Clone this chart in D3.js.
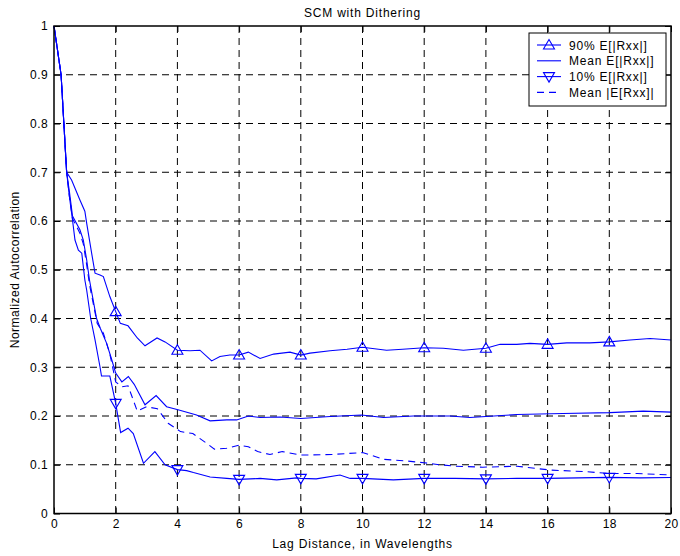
<!DOCTYPE html>
<html>
<head>
<meta charset="utf-8">
<script src="https://cdn.jsdelivr.net/npm/d3@7/dist/d3.min.js"></script>
<style>
  body { margin: 0; background: #fff; }
  svg { display: block; font-family: "Liberation Sans", Arial, sans-serif; }
</style>
</head>
<body>
<svg id="chart" width="680" height="556"></svg>
<script>
// ---- data ----
const titleText = "SCM with Dithering";
const xLabel = "Lag Distance, in Wavelengths";
const yLabel = "Normalized Autocorrelation";
const xTicks = [0, 2, 4, 6, 8, 10, 12, 14, 16, 18, 20];
const yTicks = [0, 0.1, 0.2, 0.3, 0.4, 0.5, 0.6, 0.7, 0.8, 0.9, 1];
const markerX = [2, 4, 6, 8, 10, 12, 14, 16, 18];
const seriesNames = ["90% E[|Rxx|]", "Mean E[|Rxx|]", "10% E[|Rxx|]", "Mean |E[Rxx]|"];

const p90X = [0, 0.23, 0.32, 0.41, 0.57, 0.84, 1.0, 1.06, 1.22, 1.33, 1.49, 1.6, 1.81, 2.0, 2.15, 2.4, 2.7, 2.95, 3.34, 3.6, 4.0, 4.41, 4.73, 5.11, 5.38, 5.7, 6.0, 6.3, 6.68, 7.12, 7.65, 8.0, 8.3, 8.95, 9.5, 10.0, 10.78, 11.3, 12.0, 12.62, 13.27, 14.0, 14.46, 15.0, 15.43, 16.0, 16.62, 17.37, 18.0, 18.67, 19.32, 20];
const p90Y = [1, 0.9, 0.8, 0.7, 0.684, 0.643, 0.62, 0.595, 0.534, 0.493, 0.489, 0.486, 0.445, 0.414, 0.39, 0.385, 0.36, 0.344, 0.36, 0.352, 0.335, 0.334, 0.335, 0.313, 0.322, 0.325, 0.325, 0.331, 0.318, 0.327, 0.331, 0.325, 0.329, 0.334, 0.337, 0.341, 0.335, 0.337, 0.34, 0.339, 0.335, 0.339, 0.347, 0.347, 0.349, 0.347, 0.35, 0.35, 0.352, 0.356, 0.359, 0.356];

const meanX = [0, 0.23, 0.32, 0.41, 0.5, 0.6, 0.84, 0.95, 1.06, 1.15, 1.38, 1.5, 1.7, 1.85, 2.0, 2.2, 2.41, 2.6, 2.95, 3.31, 3.65, 4.02, 4.62, 5.06, 5.6, 5.92, 6.3, 6.68, 7.33, 8.0, 8.95, 9.97, 10.68, 11.65, 12.84, 13.48, 15.0, 16.5, 18.02, 19.1, 20];
const meanY = [1, 0.9, 0.8, 0.7, 0.66, 0.61, 0.582, 0.561, 0.52, 0.479, 0.4, 0.38, 0.35, 0.32, 0.288, 0.27, 0.281, 0.265, 0.223, 0.242, 0.219, 0.213, 0.202, 0.19, 0.192, 0.192, 0.2, 0.197, 0.198, 0.195, 0.199, 0.202, 0.197, 0.2, 0.2, 0.197, 0.203, 0.205, 0.207, 0.21, 0.208];

const p10X = [0, 0.23, 0.32, 0.41, 0.5, 0.6, 0.68, 0.79, 0.9, 1.0, 1.06, 1.19, 1.33, 1.49, 1.54, 1.81, 2.0, 2.16, 2.4, 2.57, 2.9, 3.27, 3.6, 4.0, 4.3, 4.52, 5.06, 5.6, 6.0, 6.68, 7.22, 7.87, 8.0, 8.5, 9.27, 9.6, 10.0, 11.0, 12.0, 13.0, 14.0, 15.0, 16.0, 17.0, 18.0, 19.0, 20];
const p10Y = [1, 0.9, 0.8, 0.7, 0.65, 0.602, 0.561, 0.54, 0.534, 0.479, 0.458, 0.4, 0.356, 0.301, 0.282, 0.282, 0.226, 0.166, 0.175, 0.164, 0.103, 0.127, 0.1, 0.09, 0.088, 0.084, 0.075, 0.072, 0.07, 0.072, 0.069, 0.073, 0.072, 0.071, 0.079, 0.072, 0.072, 0.069, 0.072, 0.072, 0.071, 0.072, 0.072, 0.073, 0.074, 0.073, 0.074];

const meanAbsX = [0, 0.23, 0.32, 0.41, 0.5, 0.6, 0.84, 0.95, 1.06, 1.15, 1.4, 1.6, 1.8, 2.0, 2.2, 2.4, 2.7, 3.0, 3.35, 3.7, 4.1, 4.5, 4.95, 5.2, 5.6, 6.0, 6.3, 6.6, 7.0, 7.4, 8.0, 8.3, 9.0, 10.0, 10.7, 11.4, 12.0, 12.5, 13.0, 13.9, 15.0, 16.1, 17.2, 18.0, 18.9, 20];
const meanAbsY = [1, 0.9, 0.8, 0.7, 0.65, 0.605, 0.575, 0.553, 0.51, 0.47, 0.39, 0.37, 0.33, 0.27, 0.26, 0.262, 0.21, 0.219, 0.215, 0.185, 0.168, 0.164, 0.144, 0.132, 0.134, 0.14, 0.137, 0.127, 0.121, 0.127, 0.12, 0.12, 0.121, 0.125, 0.111, 0.108, 0.104, 0.1, 0.097, 0.095, 0.097, 0.089, 0.086, 0.082, 0.082, 0.079];

// ---- layout ----
const svg = d3.select("#chart");
const L = 54, R = 671, T = 26, B = 513.5;
const x = d3.scaleLinear().domain([0, 20]).range([L, R]);
const y = d3.scaleLinear().domain([0, 1]).range([B, T]);
const blue = "#0000ff";
const font = 12;
const ls = "0.8px";

// grid
const grid = svg.append("g");
xTicks.slice(1, -1).forEach(t => {
  grid.append("line").attr("x1", x(t)).attr("x2", x(t)).attr("y1", T).attr("y2", B)
    .attr("stroke", "#000").attr("stroke-width", 1).attr("stroke-dasharray", "7,5");
});
yTicks.slice(1, -1).forEach(t => {
  grid.append("line").attr("x1", L).attr("x2", R).attr("y1", y(t)).attr("y2", y(t))
    .attr("stroke", "#000").attr("stroke-width", 1).attr("stroke-dasharray", "7,5");
});

// axes (MATLAB-like inward ticks on all sides)
const tl = 6;
const axB = svg.append("g").attr("transform", `translate(0,${B})`)
  .call(d3.axisBottom(x).tickValues(xTicks).tickSizeInner(-tl).tickSizeOuter(0).tickPadding(6).tickFormat(d3.format("d")));
const axT = svg.append("g").attr("transform", `translate(0,${T})`)
  .call(d3.axisTop(x).tickValues(xTicks).tickSizeInner(-tl).tickSizeOuter(0).tickFormat(""));
const axL = svg.append("g").attr("transform", `translate(${L},0)`)
  .call(d3.axisLeft(y).tickValues(yTicks).tickSizeInner(-tl).tickSizeOuter(0).tickPadding(6).tickFormat(d => d === 0 ? "0" : d === 1 ? "1" : d3.format(".1f")(d)));
const axR = svg.append("g").attr("transform", `translate(${R},0)`)
  .call(d3.axisRight(y).tickValues(yTicks).tickSizeInner(-tl).tickSizeOuter(0).tickFormat(""));
[axB, axT, axL, axR].forEach(a => {
  a.select(".domain").remove();
  a.selectAll("line").attr("stroke", "#000");
  a.selectAll("text").attr("font-size", font).attr("fill", "#000")
    .attr("font-family", "Liberation Sans, Arial, sans-serif").attr("letter-spacing", "0.4px");
});

// lines
const line = d3.line().x(d => x(d[0])).y(d => y(d[1]));
const zip = (a, b) => a.map((v, i) => [v, b[i]]);
const series = [
  { name: seriesNames[0], data: zip(p90X, p90Y), dash: null, marker: "up" },
  { name: seriesNames[1], data: zip(meanX, meanY), dash: null, marker: null },
  { name: seriesNames[2], data: zip(p10X, p10Y), dash: null, marker: "down" },
  { name: seriesNames[3], data: zip(meanAbsX, meanAbsY), dash: "7,5", marker: null }
];
const triUp = "M0,-5.5L5.5,4L-5.5,4Z";
const triDown = "M0,5.5L5.5,-4L-5.5,-4Z";

const plot = svg.append("g");
series.forEach(s => {
  plot.append("path").datum(s.data).attr("d", line)
    .attr("fill", "none").attr("stroke", blue).attr("stroke-width", 1.1)
    .attr("stroke-dasharray", s.dash);
  if (s.marker) {
    const pts = s.data.filter(d => markerX.includes(d[0]));
    plot.selectAll(null).data(pts).enter().append("path")
      .attr("transform", d => `translate(${x(d[0])},${y(d[1])})`)
      .attr("d", s.marker === "up" ? triUp : triDown)
      .attr("fill", "none").attr("stroke", blue).attr("stroke-width", 1.1);
  }
});

// frame
svg.append("rect").attr("x", L).attr("y", T).attr("width", R - L).attr("height", B - T)
  .attr("fill", "none").attr("stroke", "#000").attr("stroke-width", 1.5);

// titles
svg.append("text").attr("x", (L + R) / 2).attr("y", 17).attr("text-anchor", "middle")
  .attr("font-size", font).attr("letter-spacing", ls).text(titleText);
svg.append("text").attr("x", (L + R) / 2).attr("y", 548).attr("text-anchor", "middle")
  .attr("font-size", font).attr("letter-spacing", ls).text(xLabel);
svg.append("text").attr("transform", `translate(19,${(T + B) / 2}) rotate(-90)`)
  .attr("text-anchor", "middle").attr("font-size", font).attr("letter-spacing", "0.5px").text(yLabel);

// legend
const lg = svg.append("g");
const lx = 529, ly = 33, lw = 137, lh = 73;
lg.append("rect").attr("x", lx).attr("y", ly).attr("width", lw).attr("height", lh)
  .attr("fill", "#fff").attr("stroke", "#000").attr("stroke-width", 1);
series.forEach((s, i) => {
  const cy = ly + 12 + i * 15.8;
  lg.append("line").attr("x1", lx + 8).attr("x2", lx + 32).attr("y1", cy).attr("y2", cy)
    .attr("stroke", blue).attr("stroke-width", 1.1).attr("stroke-dasharray", s.dash);
  if (s.marker) {
    lg.append("path").attr("transform", `translate(${lx + 20},${cy})`)
      .attr("d", s.marker === "up" ? triUp : triDown)
      .attr("fill", "none").attr("stroke", blue).attr("stroke-width", 1.1);
  }
  lg.append("text").attr("x", lx + 40).attr("y", cy + 4.5).attr("font-size", font)
    .attr("letter-spacing", ls).text(s.name);
});
</script>
</body>
</html>
